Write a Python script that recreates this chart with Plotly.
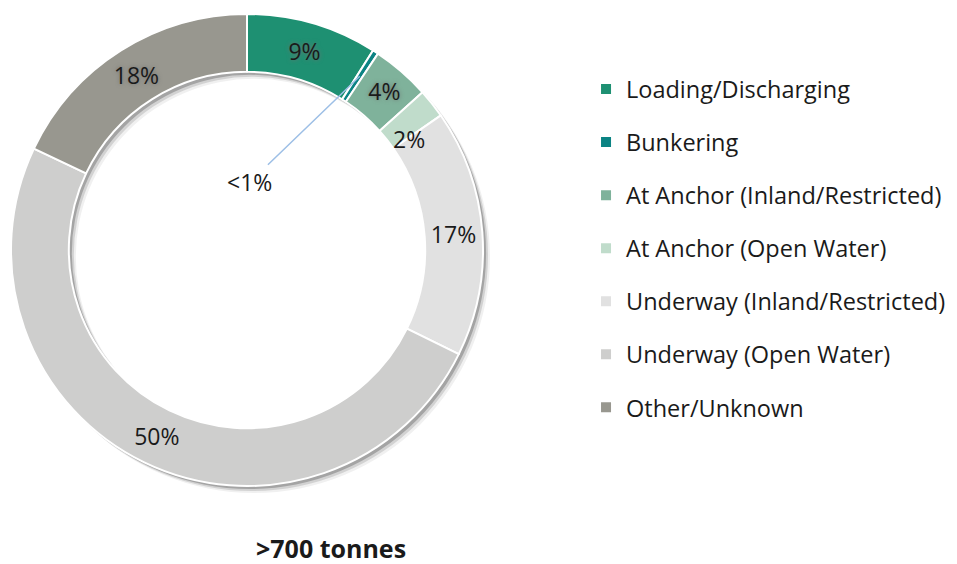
import math

import plotly.graph_objects as graph_objects

labels = [
    "Loading/Discharging",
    "Bunkering",
    "At Anchor (Inland/Restricted)",
    "At Anchor (Open Water)",
    "Underway (Inland/Restricted)",
    "Underway (Open Water)",
    "Other/Unknown",
]
shares = [9, 0.4, 4, 2, 17, 50, 18]
share_text = ["9%", "<1%", "4%", "2%", "17%", "50%", "18%"]
colors = ["#1e9072", "#0b8383", "#7fb29b", "#c0dccb", "#e1e1e1", "#cececd", "#98978f"]

title_text = ">700 tonnes"
font_family = "Open Sans"
text_color = "#1a1a1a"

W, H = 957, 564
HOLE = 0.755
# the page body adds an 8px margin, so layout positions are shifted back by 8px
cx, cy, r_out = 239, 242, 236
dom_x = [(cx - r_out) / W, (cx + r_out) / W]
dom_y = [1 - (cy + r_out) / H, 1 - (cy - r_out) / H]

fig = graph_objects.Figure()

# soft drop shadow under the ring
for shift, alpha in [(7, 0.06), (5, 0.12), (3, 0.22)]:
    fig.add_trace(
        graph_objects.Pie(
            values=[1],
            labels=["shadow"],
            hole=HOLE,
            sort=False,
            textinfo="none",
            hoverinfo="skip",
            marker=dict(colors=[f"rgba(0,0,0,{alpha})"], line=dict(width=0)),
            domain=dict(
                x=[dom_x[0] + shift / W, dom_x[1] + shift / W],
                y=[dom_y[0] - shift / H, dom_y[1] - shift / H],
            ),
            showlegend=False,
        )
    )

halo = "0px 0px 4px #6f6f6f"
fig.add_trace(
    graph_objects.Pie(
        labels=labels,
        values=shares,
        text=share_text,
        texttemplate="%{text}",
        textposition=["inside", "none", "inside", "none", "inside", "inside", "inside"],
        insidetextorientation="horizontal",
        insidetextfont=dict(
            size=23,
            color=text_color,
            family=font_family,
            shadow=[halo, "none", halo, "none", "none", "none", halo],
        ),
        hole=HOLE,
        sort=False,
        direction="clockwise",
        rotation=0,
        marker=dict(colors=colors, line=dict(color="white", width=2)),
        domain=dict(x=dom_x, y=dom_y),
        showlegend=False,
    )
)

# legend entries, one group each so they can be spaced out
for label, color in zip(labels, colors):
    fig.add_trace(
        graph_objects.Scatter(
            x=[None],
            y=[None],
            mode="markers",
            name=label,
            legendgroup=label,
            marker=dict(symbol="square", size=10, color=color),
        )
    )

total = sum(shares)
r_mid = r_out * (1 + HOLE) / 2


def ring_point(idx, radius):
    frac = (sum(shares[:idx]) + shares[idx] / 2) / total
    ang = 2 * math.pi * frac
    return (cx + radius * math.sin(ang)) / W, 1 - (cy - radius * math.cos(ang)) / H


# leader line for the small Bunkering slice
tip_x, tip_y = ring_point(1, r_mid)
fig.add_annotation(
    x=tip_x,
    y=tip_y,
    xref="paper",
    yref="paper",
    text=share_text[1],
    showarrow=True,
    arrowhead=0,
    arrowwidth=1.5,
    arrowcolor="#9dbfe6",
    ax=-110,
    ay=106,
    font=dict(size=23, color=text_color, family=font_family),
)

# label for the thin At Anchor (Open Water) slice
lx, ly = ring_point(3, r_mid)
fig.add_annotation(
    x=lx,
    y=ly,
    xref="paper",
    yref="paper",
    text=share_text[3],
    showarrow=False,
    font=dict(size=23, color=text_color, family=font_family),
)

fig.add_annotation(
    x=247 / W,
    y=1 - 540 / H,
    xref="paper",
    yref="paper",
    yanchor="middle",
    height=30,
    borderpad=0,
    text="<b>" + title_text + "</b>",
    showarrow=False,
    font=dict(size=25, color=text_color, family=font_family),
)

fig.update_layout(
    width=W,
    height=H,
    margin=dict(l=0, r=0, t=0, b=0),
    paper_bgcolor="white",
    plot_bgcolor="white",
    font=dict(family=font_family, size=20, color=text_color),
    xaxis=dict(visible=False),
    yaxis=dict(visible=False),
    legend=dict(
        x=0.604,
        y=0.574,
        xanchor="left",
        yanchor="middle",
        tracegroupgap=19.5,
        font=dict(size=23.5, family=font_family, color=text_color),
        itemwidth=30,
    ),
)

fig.write_html("out.html")
